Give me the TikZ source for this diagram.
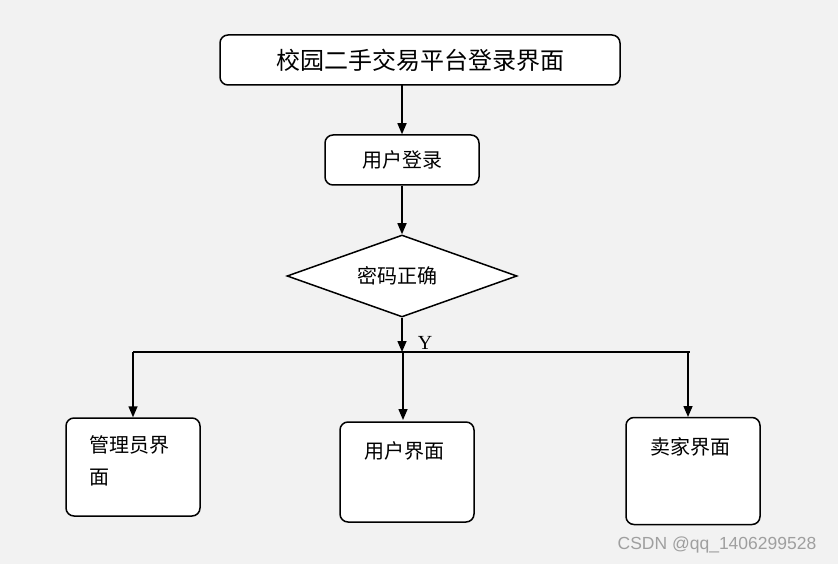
\documentclass[tikz,border=0pt]{standalone}
\usepackage{fontspec}
\newfontfamily\cjk{Noto Sans CJK SC}
\setmainfont{Liberation Serif}
\setsansfont{Liberation Sans}
\usetikzlibrary{arrows.meta,shapes.geometric}
\begin{document}
\begin{tikzpicture}[x=1pt,y=-1pt,line width=1.5pt,
  box/.style={draw,rounded corners=8pt,fill=white,inner sep=0pt},
  arr/.style={-{Triangle[length=11pt,width=9pt]}},
  lbl/.style={font=\cjk\fontsize{20}{24}\selectfont}]
\fill[gray!10] (0,0) rectangle (838,564);
\useasboundingbox (0,0) rectangle (838,564);
\node[box,minimum width=400pt,minimum height=50pt,font=\cjk\fontsize{24}{28}\selectfont] (top) at (420,60) {校园二手交易平台登录界面};
\node[box,minimum width=154pt,minimum height=50pt,lbl] (login) at (402,160) {用户登录};
\node[draw,diamond,fill=white,aspect=2.85,minimum width=230pt,minimum height=82pt,inner sep=0pt] (pw) at (402,276) {};
\node[lbl] at (397,276) {密码正确};
\node[box,minimum width=134pt,minimum height=98pt] (admin) at (133,467) {};
\node[lbl,anchor=north west,align=left,text width=110pt] at (85,432) {管理员界\\[8pt]面};
\node[box,minimum width=134pt,minimum height=100pt] (user) at (407,472) {};
\node[lbl] at (404,451) {用户界面};
\node[box,minimum width=134pt,minimum height=107pt] (seller) at (693,471) {};
\node[lbl] at (690,447) {卖家界面};
\coordinate (j) at (402,352);
\coordinate (jl) at (133,352);
\coordinate (jr) at (688,352);
\draw[arr] (402,85) -- (login.north);
\draw[arr] (login) -- (pw.north);
\draw[arr] (pw.south) -- (j);
\draw (jl) -- (690,352);
\draw[arr] (jl) -- (admin.north);
\draw[arr] (403,352) -- (403,420);
\draw[arr] (jr) -- (688,417);
\node[font=\fontsize{20}{22}\selectfont] (y) at (425,343) {Y};
\node[font=\sffamily\fontsize{17.5}{19}\selectfont,text=gray!75] (wm) at (717,545) {CSDN @qq\_1406299528};
\end{tikzpicture}
\end{document}
